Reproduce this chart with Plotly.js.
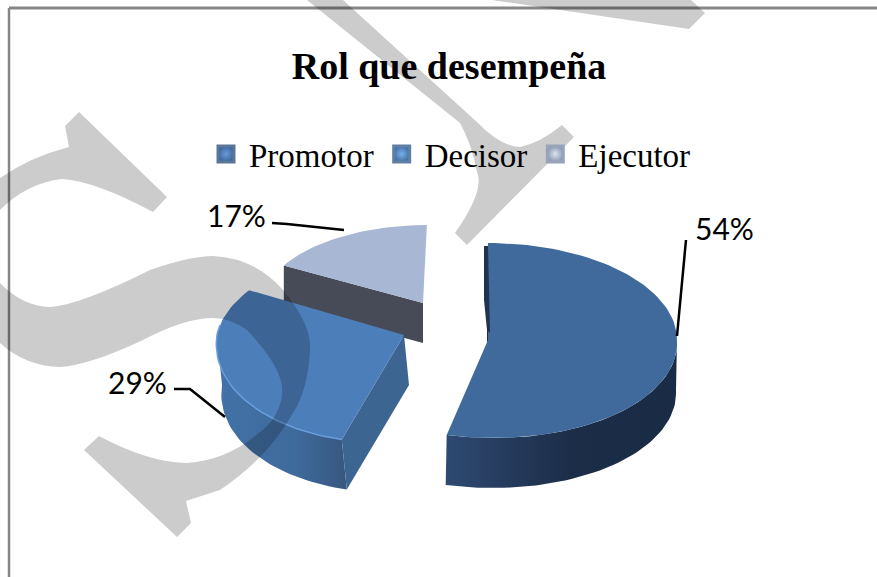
<!DOCTYPE html>
<html>
<head>
<meta charset="utf-8">
<script src="https://cdn.plot.ly/plotly-3.0.1.min.js"></script>
<style>html,body{margin:0;padding:0;background:#fff}#chart{width:877px;height:577px}</style>
</head>
<body>
<div id="chart"></div>
<script>
// ---- chart data ----
const categories = ["Promotor", "Decisor", "Ejecutor"];
const shares = [54, 29, 17];
const chartTitle = "Rol que desempeña";

// ---- styling ----
const topColors = ["#3F6A9B", "#4C7EB9", "#A8B7D4"];
const sideScales = [
  [[0, "#2E4A72"], [0.2, "#283F62"], [0.55, "#1B2D47"], [1, "#1A2B45"]],
  [[0, "#4272A8"], [0.6, "#3F6A9C"], [1, "#37587F"]],
  [[0, "#474B57"], [1, "#474B57"]]
];
const faceColors = ["#1B2D48", "#3D6591", "#474B57"];
const swatchColors = ["#3E659A", "#44719F", "#8E9BB5"];
const swatchEdges = ["#5A7699", "#5F80A6", "#98A4BA"];
const swatchCentres = ["#6A9BDB", "#76B0F0", "#DCE4F2"];
const FONT_SERIF = '"Liberation Serif","Times New Roman",serif';
const FONT_LABEL = 'Lato,"Noto Sans",sans-serif';

// ---- 3-D look of each exploded wedge (pixel geometry only) ----
const wedges = [
  {cx: 488, cy: 340, a: 189, bBack: 97, bFront: 98, shearBack: 0.0, shearFront: 0.06, dx: -1, dy: 50},
  {cx: 404, cy: 335, a: 187, bBack: 93, bFront: 108, shearBack: -0.2, shearFront: -0.15, dx: 5, dy: 50},
  {cx: 423, cy: 303, a: 161, bBack: 78, bFront: 78, shearBack: -0.05, shearFront: -0.05, dx: 0, dy: 40}
];
const labelSpots = [[724, 228], [137, 382], [236, 215]];
const leaders = [
  "M686,240 L677,336",
  "M174,389 L190,389 L225,417",
  "M272,223 L287,224 L344,230"
];
const watermark = [
  "M307,0 L343,0 L478,123 Q500,146 520,147 Q540,143 562,125 L574,137 L467,245 L455,233 Q485,190 477,172 Q472,145 460,123 Z",
  "M492,0 L691,0 L705,13 L689,29 Z",
  "M79,112 L65,126 L69,147 Q30,157 0,178 L0,210 Q27,183 62,179 Q95,181 153,212 L167,197 Z",
  "M0,283 Q22,306 50,307 Q80,305 150,270 Q190,256 213,256 Q255,258 283,290 Q312,325 310,350 Q308,390 293,413 Q268,458 220,490 L186,501 L191,523 L177,537 L84,450 L99,436 Q150,463 187,463 Q233,460 270,423 Q284,405 282,387 Q280,365 247,330 Q230,318 213,318 Q185,318 143,340 Q90,365 60,367 Q25,366 0,343 Z"
];

const total = shares.reduce((s, v) => s + v, 0);
const rad = d => d * Math.PI / 180;

function rimPoint(w, deg) {
  const t = rad(deg), c = Math.cos(t), s = Math.sin(t);
  const dyy = c >= 0 ? -w.bBack * c : -w.bFront * c;
  const shear = c >= 0 ? w.shearBack : w.shearFront;
  return [w.cx + w.a * s + shear * dyy, w.cy + dyy];
}
function arc(w, from, to) {
  const pts = [], n = Math.max(2, Math.ceil(Math.abs(to - from) / 2));
  for (let i = 0; i <= n; i++) pts.push(rimPoint(w, from + (to - from) * i / n));
  return pts;
}
function poly(pts, extra) {
  return Object.assign({
    x: pts.map(p => p[0]), y: pts.map(p => p[1]),
    mode: "lines", fill: "toself", line: {width: 0},
    showlegend: false, hoverinfo: "skip", type: "scatter"
  }, extra);
}

const perWedge = [];
let start = 0;
shares.forEach((v, i) => {
  const end = start + v / total * 360;
  perWedge.push([start, end]);
  start = end;
});

const traces = [];
// back-most wedge first so that nearer wedges overlap it
[2, 1, 0].forEach(i => {
  const w = wedges[i], [a0, a1] = perWedge[i];
  const shift = p => [p[0] + w.dx, p[1] + w.dy];
  // curved outer wall (front half only)
  const lo = Math.max(a0, 90), hi = Math.min(a1, 270);
  if (hi > lo) {
    const rim = arc(w, lo, hi);
    traces.push(poly(rim.concat(rim.slice().reverse().map(shift)), {
      fillcolor: sideScales[i][0][1],
      fillgradient: {type: "horizontal", colorscale: sideScales[i]}
    }));
  }
  // flat cut wall at the wedge's first edge
  const apex = [w.cx, w.cy], edge = rimPoint(w, a0);
  traces.push(poly([apex, edge, shift(edge), shift(apex)], {fillcolor: faceColors[i]}));
  // top surface
  traces.push(poly([apex].concat(arc(w, a0, a1)), {fillcolor: topColors[i]}));
  // light rim on the near edge of the middle wedge
  if (i === 1) {
    const rim = arc(w, a0, 276);
    traces.push({x: rim.map(p => p[0]), y: rim.map(p => p[1]), mode: "lines", type: "scatter",
      line: {color: "#6A9EDC", width: 1.5}, showlegend: false, hoverinfo: "skip"});
  }
});
// thin dark sliver beside the largest wedge's straight edge
traces.push(poly([[484, 246], [488, 246], [490, 333], [487, 330], [484, 300]], {fillcolor: "#1E3350"}));

// legend entries
categories.forEach((name, i) => {
  traces.push({
    x: [null], y: [null], name: name, type: "scatter", mode: "markers",
    marker: {symbol: "square", size: 16, color: swatchColors[i],
             line: {color: swatchEdges[i], width: 3},
             gradient: {type: "radial", color: swatchCentres[i]}},
    hoverinfo: "skip"
  });
});

const shapes = [
  {type: "line", x0: 9, x1: 877, y0: 8, y1: 8, line: {color: "#868686", width: 3}},
  {type: "line", x0: 9, x1: 9, y0: 8, y1: 577, line: {color: "#868686", width: 2.5}}
].map(s => Object.assign({xref: "x", yref: "y", layer: "above"}, s));
leaders.forEach(p => shapes.push({type: "path", path: p, xref: "x", yref: "y", layer: "above",
  line: {color: "#000", width: 2.5}}));
watermark.forEach(p => shapes.push({type: "path", path: p, xref: "x", yref: "y", layer: "above",
  fillcolor: "rgba(0,0,0,0.2)", line: {width: 0}}));

const annotations = shares.map((v, i) => ({
  x: labelSpots[i][0], y: labelSpots[i][1], xref: "x", yref: "y",
  text: v + "%", showarrow: false, xanchor: "center", yanchor: "middle",
  font: {family: FONT_LABEL, size: 30, color: "#000"}
}));

Plotly.newPlot("chart", traces, {
  width: 877, height: 577,
  margin: {l: 0, r: 0, t: 0, b: 0},
  paper_bgcolor: "#fff", plot_bgcolor: "#fff",
  title: {text: "<b>" + chartTitle + "</b>", x: 449 / 877, xanchor: "center", y: 1 - 66 / 577, yanchor: "middle",
          font: {family: FONT_SERIF, size: 38, color: "#000"}},
  xaxis: {range: [0, 877], visible: false, fixedrange: true},
  yaxis: {range: [577, 0], visible: false, fixedrange: true},
  showlegend: true,
  legend: {orientation: "h", x: 203 / 877, xanchor: "left", y: 1 - 126 / 577, yanchor: "top",
           itemwidth: 36, bgcolor: "rgba(0,0,0,0)", borderwidth: 0,
           font: {family: FONT_SERIF, size: 33, color: "#000"}},
  shapes: shapes,
  annotations: annotations
}, {displayModeBar: false, staticPlot: true});
</script>
</body>
</html>
